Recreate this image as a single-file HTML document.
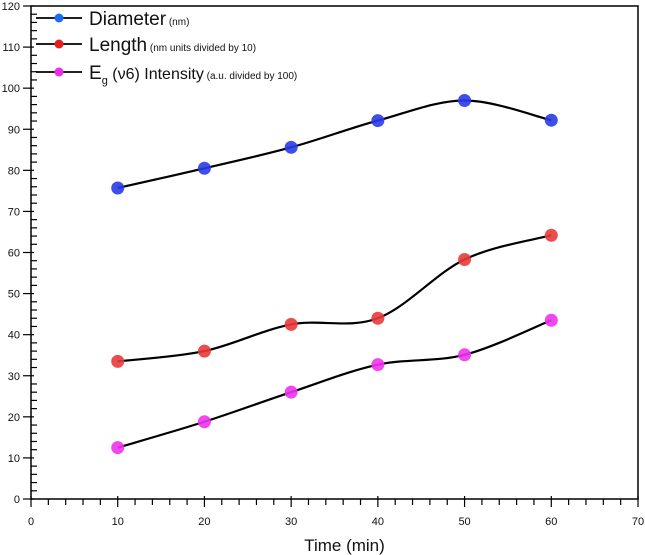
<!DOCTYPE html>
<html><head><meta charset="utf-8"><style>
html,body{margin:0;padding:0;background:#fff;}
svg{display:block;font-family:"Liberation Sans",sans-serif;}
</style></head><body>
<svg id="chart" width="645" height="555"></svg>
<script>
const categories=[10,20,30,40,50,60];
const diameter=[75.7,80.5,85.6,92.1,97,92.2];
const lengthVals=[33.5,36,42.5,44,58.3,64.2];
const intensity=[12.5,18.8,26,32.7,35.1,43.5];
const xTicks=[0,10,20,30,40,50,60,70];
const yTicks=[0,10,20,30,40,50,60,70,80,90,100,110,120];
const NS="http://www.w3.org/2000/svg";
const svg=document.getElementById('chart');
const L=31,R=638,T=6,B=499;
const xs=v=>L+(v/70)*(R-L);
const ys=v=>B-(v/120)*(B-T);
function mk(tag,attrs,parent){const e=document.createElementNS(NS,tag);for(const k in attrs)e.setAttribute(k,attrs[k]);(parent||svg).appendChild(e);return e;}
const frame=mk('rect',{x:L,y:T,width:R-L,height:B-T,fill:'none',stroke:'#000','stroke-width':1.5});


for(let v=0;v<=70;v+=2){const major=v%10===0;const t=mk('line',{x1:xs(v),x2:xs(v),y1:major?B-3:B,y2:B+(major?8:6),stroke:'#000','stroke-width':1.2});

}
xTicks.forEach(v=>{const t=mk('text',{x:xs(v),y:B+26,'font-size':11,'text-anchor':'middle',fill:'#111'});t.textContent=v;

});
for(let v=0;v<=120;v+=2){const major=v%10===0;const t=mk('line',{x1:L-(major?8:0),x2:L+(major?3:6),y1:ys(v),y2:ys(v),stroke:'#000','stroke-width':1.2});

}
yTicks.forEach(v=>{const t=mk('text',{x:L-11,y:ys(v)+4,'font-size':11,'text-anchor':'end',fill:'#111'});t.textContent=v;

});
const xt=mk('text',{x:(L+R)/2+10,y:551,'font-size':17,'text-anchor':'middle',fill:'#111'});xt.textContent='Time (min)';


function smooth(vals){const p=categories.map((c,i)=>[xs(c),ys(vals[i])]);let d=`M${p[0][0]},${p[0][1]}`;
for(let i=0;i<p.length-1;i++){const p0=p[Math.max(0,i-1)],p1=p[i],p2=p[i+1],p3=p[Math.min(p.length-1,i+2)];
const c1=[p1[0]+(p2[0]-p0[0])/6,p1[1]+(p2[1]-p0[1])/6],c2=[p2[0]-(p3[0]-p1[0])/6,p2[1]-(p3[1]-p1[1])/6];
d+=` C${c1[0]},${c1[1]} ${c2[0]},${c2[1]} ${p2[0]},${p2[1]}`;}return d;}
const series=[[diameter,'#2a3be8','diameter'],[lengthVals,'#e83a3a','length'],[intensity,'#ee33ee','intensity']];
series.forEach(([vals,col,nm])=>{
const p=mk('path',{d:smooth(vals),fill:'none',stroke:'#000','stroke-width':2.2});


vals.forEach((v,i)=>{const c=mk('circle',{cx:xs(categories[i]),cy:ys(v),r:6.5,fill:col,opacity:0.9});

});
});
const leg=[['#1a6cf0','Diameter',' (nm)',18],['#e81c1c','Length',' (nm units divided by 10)',44],['#e82ee8','E',' (a.u. divided by 100)',72]];
leg.forEach(([col,label,small,y],i)=>{
const g=mk('g',{});


mk('line',{x1:36,x2:82,y1:y,y2:y,stroke:'#000','stroke-width':1.8},g);
mk('circle',{cx:59,cy:y,r:4.5,fill:col},g);
const t=mk('text',{x:89,y:y+7,'font-size':19,fill:'#111'},g);
if(i===2){t.innerHTML='E<tspan font-size="11" dy="5">g</tspan><tspan dy="-5" font-size="16"> (ν6) Intensity</tspan><tspan font-size="10">'+small+'</tspan>';}
else{t.innerHTML=label+'<tspan font-size="10">'+small+'</tspan>';}
});
</script>
</body></html>
